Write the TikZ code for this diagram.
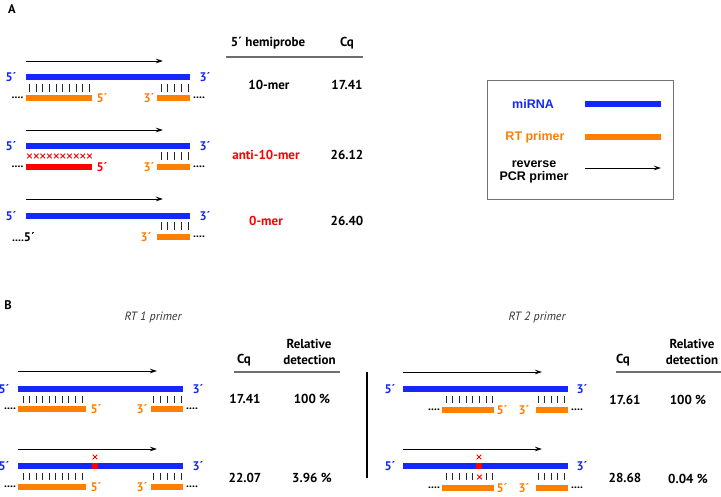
\documentclass[tikz,border=0pt]{standalone}
\usepackage{fontspec}
\setmainfont{PT Sans}
\newfontfamily\legfont{Liberation Sans}
\usetikzlibrary{arrows.meta}
\definecolor{mblue}{RGB}{20,40,250}
\definecolor{morange}{RGB}{255,128,0}
\definecolor{mred}{RGB}{255,0,0}
\definecolor{rulegray}{RGB}{110,110,110}
\newcommand{\tickrow}[5]{% x0, dx, n, ytop, ybot
  \foreach \k in {1,...,#3}{\draw[tick] ({#1+(\k-1)*#2},#4) -- ({#1+(\k-1)*#2},#5);}}
\newcommand{\redcross}[2]{\draw[rcross] (#1-2.3,#2-2.3) -- (#1+2.3,#2+2.3) (#1-2.3,#2+2.3) -- (#1+2.3,#2-2.3);}
\begin{document}
\begin{tikzpicture}[x=1pt,y=-1pt,
  mirna/.style={line width=6.3pt, draw=mblue},
  rtp/.style={line width=6pt, draw=morange},
  rtred/.style={line width=6pt, draw=mred},
  pcr/.style={line width=0.9pt, -{Stealth[length=7pt,width=4.5pt]}},
  tick/.style={line width=1pt, draw=black!85},
  rcross/.style={line width=0.9pt, draw=mred},
  hdr/.style={inner sep=0, font=\bfseries\fontsize{13}{14}\selectfont},
  val/.style={inner sep=0, font=\bfseries\fontsize{13}{14}\selectfont},
  endl/.style={inner sep=0, font=\bfseries\fontsize{12.5}{13}\selectfont},
  dots/.style={inner sep=0, font=\bfseries\fontsize{11.5}{13}\selectfont},
  ital/.style={inner sep=0, font=\itshape\fontsize{12}{13}\selectfont, text=black!80},
  leg/.style={inner sep=0, font=\legfont\bfseries\fontsize{12.5}{14}\selectfont, align=center},
  panel/.style={inner sep=0, font=\bfseries\fontsize{12.5}{14}\selectfont},
  hrule/.style={line width=1.6pt, draw=rulegray}
]
\useasboundingbox (0,0) rectangle (721,497);

% ---------------- Panel A ----------------
\node[panel] (A) at (12,9) {A};
\node[hdr] (hA1) at (268,43) {5´ hemiprobe};
\node[hdr] (hA2) at (347,43) {Cq};
\draw[hrule] (226,57) -- (363,57);

% row 1
\draw[pcr] (26,61) -- (163,61);
\draw[mirna] (26,77) -- (190,77);
\node[endl,text=mblue] at (11,77) {5´};
\node[endl,text=mblue] at (205,77) {3´};
\tickrow{29.5}{6.67}{10}{84}{92}
\tickrow{161}{6.75}{5}{84}{92}
\draw[rtp] (26,98) -- (92,98);
\draw[rtp] (157,98) -- (190,98);
\node[dots] at (17.5,98) {....};
\node[dots] at (199,98) {....};
\node[endl,text=morange] at (102,98) {5´};
\node[endl,text=morange] at (149,98) {3´};
\node[val] at (269,85) {10-mer};
\node[val] at (347,85) {17.41};

% row 2
\draw[pcr] (26,130) -- (163,130);
\draw[mirna] (26,146) -- (190,146);
\node[endl,text=mblue] at (11,146) {5´};
\node[endl,text=mblue] at (205,146) {3´};
\foreach \k in {0,...,9}{\redcross{29.5+\k*6.67}{156}}
\tickrow{161}{6.75}{5}{152}{160}
\draw[rtred] (26,167) -- (92,167);
\draw[rtp] (157,167) -- (190,167);
\node[dots] at (17.5,167) {....};
\node[dots] at (199,167) {....};
\node[endl,text=mred] at (102,167) {5´};
\node[endl,text=morange] at (149,167) {3´};
\node[val,text=mred] at (266,155) {anti-10-mer};
\node[val] at (347,155) {26.12};

% row 3
\draw[pcr] (26,199) -- (163,199);
\draw[mirna] (26,216) -- (190,216);
\node[endl,text=mblue] at (11,216) {5´};
\node[endl,text=mblue] at (205,216) {3´};
\tickrow{161}{6.75}{5}{222}{230}
\draw[rtp] (157,237) -- (190,237);
\node[dots,anchor=west] at (12,237) {....\fontsize{12.5}{13}\selectfont 5´};
\node[dots] at (199,237) {....};
\node[endl,text=morange] at (146,237) {3´};
\node[val,text=mred] at (266,221) {0-mer};
\node[val] at (347,221) {26.40};

% legend
\draw[line width=1pt, draw=black!55] (487,81) rectangle (673,200);
\node[leg,text=mblue] (l1) at (533,104) {miRNA};
\draw[mirna] (585,104) -- (661,104);
\node[leg,text=morange] (l2) at (535,137) {RT primer};
\draw[rtp] (585,137) -- (661,137);
\node[leg] (l3) at (534,171.5) {reverse\\[-1pt]PCR primer};
\draw[pcr] (585,168) -- (661,168);

% ---------------- Panel B ----------------
\node[panel] (B) at (8,305) {B};
\node[ital] (t1) at (153,317) {RT 1 primer};
\node[ital] (t2) at (537,317) {RT 2 primer};

\node[hdr] at (244,360) {Cq};
\node[hdr] at (309,344) {Relative};
\node[hdr] at (309.5,360) {detection};
\draw[hrule] (234,372) -- (340,372);
\node[hdr] at (623,360) {Cq};
\node[hdr] at (692,344) {Relative};
\node[hdr] at (692,360) {detection};
\draw[hrule] (616,372) -- (721,372);

\draw[line width=1.6pt] (367,372) -- (367,478);

% B left row 1
\draw[pcr] (18,371) -- (157,371);
\draw[mirna] (18,389) -- (183,389);
\node[endl,text=mblue] at (4,389) {5´};
\node[endl,text=mblue] at (198,389) {3´};
\tickrow{23}{6.56}{10}{396}{403}
\tickrow{153}{7}{5}{396}{403}
\draw[rtp] (18,409) -- (86,409);
\draw[rtp] (151,409) -- (183,409);
\node[dots] at (10,409) {....};
\node[dots] at (192,409) {....};
\node[endl,text=morange] at (96,409) {5´};
\node[endl,text=morange] at (142,409) {3´};
\node[val] at (245,399) {17.41};
\node[val] at (312,399) {100 \%};

% B left row 2
\draw[pcr] (18,449) -- (157,449);
\draw[mirna] (18,466) -- (183,466);
\draw[line width=6.3pt, draw=mred] (92,466) -- (98,466);
\redcross{95}{457}
\node[endl,text=mblue] at (4,466) {5´};
\node[endl,text=mblue] at (198,466) {3´};
\tickrow{23}{6.56}{10}{473}{480}
\tickrow{153}{7}{5}{473}{480}
\draw[rtp] (18,487) -- (86,487);
\draw[rtp] (151,487) -- (183,487);
\node[dots] at (10,487) {....};
\node[dots] at (192,487) {....};
\node[endl,text=morange] at (96,487) {5´};
\node[endl,text=morange] at (142,487) {3´};
\node[val] at (245,478) {22.07};
\node[val] at (312,478) {3.96 \%};

% B right row 1
\draw[pcr] (403,372) -- (542,372);
\draw[mirna] (403,389) -- (568,389);
\node[endl,text=mblue] at (390,389) {5´};
\node[endl,text=mblue] at (582,389) {3´};
\tickrow{446}{6.71}{8}{396}{403}
\tickrow{538}{6.5}{5}{396}{403}
\draw[rtp] (442,410) -- (494,410);
\draw[rtp] (536,410) -- (568,410);
\node[dots] at (434,410) {....};
\node[dots] at (577,410) {....};
\node[endl,text=morange] at (502,410) {5´};
\node[endl,text=morange] at (524,410) {3´};
\node[val] at (625,400) {17.61};
\node[val] at (688,400) {100 \%};

% B right row 2
\draw[pcr] (403,449) -- (542,449);
\draw[mirna] (403,466) -- (568,466);
\draw[line width=6.3pt, draw=mred] (476,466) -- (482,466);
\redcross{479}{457}
\node[endl,text=mblue] at (390,466) {5´};
\node[endl,text=mblue] at (582,466) {3´};
\tickrow{446}{6.71}{5}{473}{480}
\redcross{479.5}{477}
\tickrow{486.2}{6.71}{2}{473}{480}
\tickrow{538}{6.5}{5}{473}{480}
\draw[rtp] (442,488) -- (494,488);
\draw[rtp] (536,488) -- (568,488);
\node[dots] at (434,488) {....};
\node[dots] at (577,488) {....};
\node[endl,text=morange] at (502,488) {5´};
\node[endl,text=morange] at (524,488) {3´};
\node[val] at (625,478) {28.68};
\node[val] at (688,479) {0.04 \%};
\end{tikzpicture}
\end{document}
